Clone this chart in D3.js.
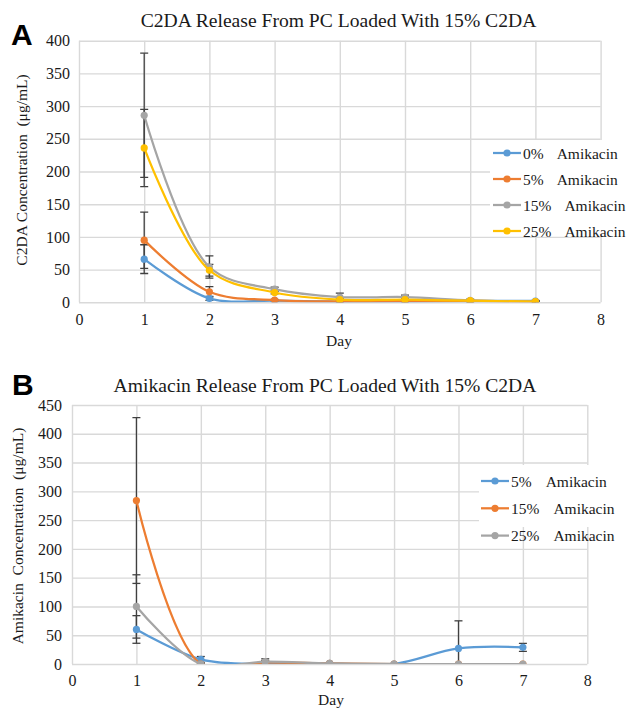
<!DOCTYPE html>
<meta charset="utf-8">

<!-- Load d3.js -->
<script src="https://d3js.org/d3.v7.min.js"></script>

<style>
  body { margin: 0; background: #fff; }
  svg text { font-family: "Liberation Serif", "Times New Roman", Tinos, Times, "DejaVu Serif", serif; fill: #1a1a1a; }
</style>

<div id="chart"></div>

<script>
// days of sampling
var days = [1, 2, 3, 4, 5, 6, 7];
var xTicks = [0, 1, 2, 3, 4, 5, 6, 7, 8];

// panel A : C2DA release, mean and error (ug/mL)
var c2daTicks = [0, 50, 100, 150, 200, 250, 300, 350, 400];
var c2daNames = ["0%", "5%", "15%", "25%"];
var c2da0 = [66, 6, 2.5, 1, 1, 2, 2];
var c2da5 = [95, 16, 3.5, 1.5, 2, 2, 1];
var c2da15 = [286, 54, 20, 8, 8, 3, 1];
var c2da25 = [236, 49, 15, 4, 4, 2.5, 1];
var c2da0Err = [22, 3, 1, 1, 1, 1, 1];
var c2da5Err = [43, 8, 1, 1, 1, 1, 1];
var c2da15Err = [95, 17, 3, 6, 3, 2, 1];
var c2da25Err = [59, 9, 2, 2, 2, 1, 1];

// panel B : amikacin release, mean and error (ug/mL)
var amiTicks = [0, 50, 100, 150, 200, 250, 300, 350, 400, 450];
var amiNames = ["5%", "15%", "25%"];
var ami5 = [60, 8, 0, 1, 0, 27, 29];
var ami15 = [284, 0, 3, 1, 0, 0, 0];
var ami25 = [100, 0, 4, 1, 0, 0, 0];
var ami5Err = [24, 5, 1, 1, 0, 48, 7];
var ami15Err = [144, 0, 3, 1, 0, 0, 0];
var ami25Err = [55, 1, 5, 1, 0, 0, 0];

var blue = "#5b9bd5", orange = "#ed7d31", grey = "#a5a5a5", gold = "#ffc000";
var serif = "'Liberation Serif', 'Times New Roman', Tinos, Times, 'DejaVu Serif', serif";

var svg = d3.select("#chart")
  .append("svg")
    .attr("width", 630)
    .attr("height", 710);

svg.append("rect").attr("width", 630).attr("height", 710).attr("fill", "#fff");

function drawPanel(p) {
  var x = p.x, y = p.y;
  var g = svg.append("g");
  var yTop = p.yTicks[p.yTicks.length - 1];

  // horizontal grid + y labels
  var ya = g.append("g")
    .attr("transform", "translate(" + x(0) + ",0)")
    .call(d3.axisLeft(y).tickValues(p.yTicks).tickSize(-(x(8) - x(0))).tickPadding(p.yPad));
  // vertical grid + x labels
  var xa = g.append("g")
    .attr("transform", "translate(0," + y(0) + ")")
    .call(d3.axisBottom(x).tickValues(xTicks).tickSize(-(y(0) - y(yTop))).tickPadding(p.xPad));

  [ya, xa].forEach(function(a) {
    a.attr("font-family", null).attr("font-size", null);
    a.select(".domain").remove();
    a.selectAll("line").attr("stroke", "#d9d9d9").attr("stroke-width", 1.4);
    a.selectAll("text")
      .style("font-family", serif)
      .style("font-size", "16px")
      .style("fill", "#1a1a1a");
  });

  // clip to plot area
  svg.append("clipPath").attr("id", p.id)
    .append("rect")
      .attr("x", x(0)).attr("y", y(yTop) - 2)
      .attr("width", x(8) - x(0)).attr("height", y(0) - y(yTop) + 2);

  var plot = g.append("g").attr("clip-path", "url(#" + p.id + ")");

  // error bars
  p.series.forEach(function(s) {
    var eb = plot.append("g").attr("stroke", "#404040").attr("stroke-width", 1.3);
    days.forEach(function(d, i) {
      if (!s.err[i]) return;
      var top = y(s.vals[i] + s.err[i]), bot = y(Math.max(0, s.vals[i] - s.err[i]));
      eb.append("line").attr("x1", x(d)).attr("x2", x(d)).attr("y1", top).attr("y2", bot);
      eb.append("line").attr("x1", x(d) - 4).attr("x2", x(d) + 4).attr("y1", top).attr("y2", top);
      if (s.vals[i] - s.err[i] > 0)
        eb.append("line").attr("x1", x(d) - 4).attr("x2", x(d) + 4).attr("y1", bot).attr("y2", bot);
    });
  });

  var line = d3.line()
    .curve(d3.curveCatmullRom)
    .x(function(d) { return x(d[0]); })
    .y(function(d) { return y(d[1]); });

  // smoothed lines with markers
  p.series.forEach(function(s) {
    var pts = days.map(function(d, i) { return [d, s.vals[i]]; });
    plot.append("path")
      .attr("d", line(pts))
      .attr("fill", "none")
      .attr("stroke", s.color)
      .attr("stroke-width", 2.25);
    plot.selectAll(null)
      .data(pts)
      .enter()
      .append("circle")
        .attr("cx", function(d) { return x(d[0]); })
        .attr("cy", function(d) { return y(d[1]); })
        .attr("r", 3.6)
        .attr("fill", s.color);
  });

  // titles
  g.append("text")
    .attr("x", p.titleX).attr("y", p.titleY)
    .attr("text-anchor", "middle")
    .style("font-size", "19.6px")
    .text(p.title);

  g.append("text")
    .attr("x", p.letterX).attr("y", p.letterY)
    .style("font-family", "'Liberation Sans', Arial, sans-serif")
    .style("fill", "#000")
    .style("font-weight", "bold")
    .style("font-size", "30px")
    .text(p.letter);

  g.append("text")
    .attr("x", p.dayX).attr("y", p.dayY)
    .attr("text-anchor", "middle")
    .style("font-size", "15.5px")
    .text("Day");

  g.append("text")
    .attr("transform", "translate(" + p.ylabX + "," + p.ylabY + ") rotate(-90)")
    .attr("text-anchor", "middle")
    .style("font-size", "15.5px")
    .style("white-space", "pre")
    .text(p.ylab);

  // legend
  var lg = g.append("g");
  lg.append("rect")
    .attr("x", p.legBox[0]).attr("y", p.legBox[1])
    .attr("width", p.legBox[2]).attr("height", p.legBox[3])
    .attr("fill", "#fff");
  p.series.forEach(function(s, i) {
    var cy = p.legY + i * p.legStep;
    lg.append("line")
      .attr("x1", p.legX).attr("x2", p.legX + 28)
      .attr("y1", cy).attr("y2", cy)
      .attr("stroke", s.color).attr("stroke-width", 2.25);
    lg.append("circle")
      .attr("cx", p.legX + 14).attr("cy", cy).attr("r", 3.6)
      .attr("fill", s.color);
    var t = lg.append("text")
      .attr("x", p.legX + 30).attr("y", cy + 5.5)
      .style("font-size", "15.5px");
    t.append("tspan").text(s.name);
    t.append("tspan").attr("dx", p.legGap).text("Amikacin");
  });
}

// Panel A
drawPanel({
  id: "clipA",
  x: d3.scaleLinear().domain([0, 8]).range([79, 600.6]),
  y: d3.scaleLinear().domain([0, 400]).range([302.3, 40.7]),
  yTicks: c2daTicks, yPad: 9, xPad: 11,
  series: [
    { name: c2daNames[0], vals: c2da0, err: c2da0Err, color: blue },
    { name: c2daNames[1], vals: c2da5, err: c2da5Err, color: orange },
    { name: c2daNames[2], vals: c2da15, err: c2da15Err, color: grey },
    { name: c2daNames[3], vals: c2da25, err: c2da25Err, color: gold }
  ],
  title: "C2DA Release From PC Loaded With 15% C2DA",
  titleX: 338.5, titleY: 27,
  letter: "A", letterX: 11, letterY: 45,
  dayX: 339, dayY: 346,
  ylab: "C2DA Concentration  (\u03bcg/mL)", ylabX: 27, ylabY: 170,
  legBox: [490, 140, 140, 94], legX: 493, legY: 153, legStep: 26, legGap: 13
});

// Panel B
drawPanel({
  id: "clipB",
  x: d3.scaleLinear().domain([0, 8]).range([72, 587.3]),
  y: d3.scaleLinear().domain([0, 450]).range([664, 405]),
  yTicks: amiTicks, yPad: 10, xPad: 11,
  series: [
    { name: amiNames[0], vals: ami5, err: ami5Err, color: blue },
    { name: amiNames[1], vals: ami15, err: ami15Err, color: orange },
    { name: amiNames[2], vals: ami25, err: ami25Err, color: grey }
  ],
  title: "Amikacin Release From PC Loaded With 15% C2DA",
  titleX: 325, titleY: 392,
  letter: "B", letterX: 12, letterY: 395,
  dayX: 331, dayY: 705,
  ylab: "Amikacin  Concentration  (\u03bcg/mL)", ylabX: 23, ylabY: 536,
  legBox: [479, 465, 151, 62], legX: 481, legY: 481, legStep: 27.3, legGap: 14
});
</script>
